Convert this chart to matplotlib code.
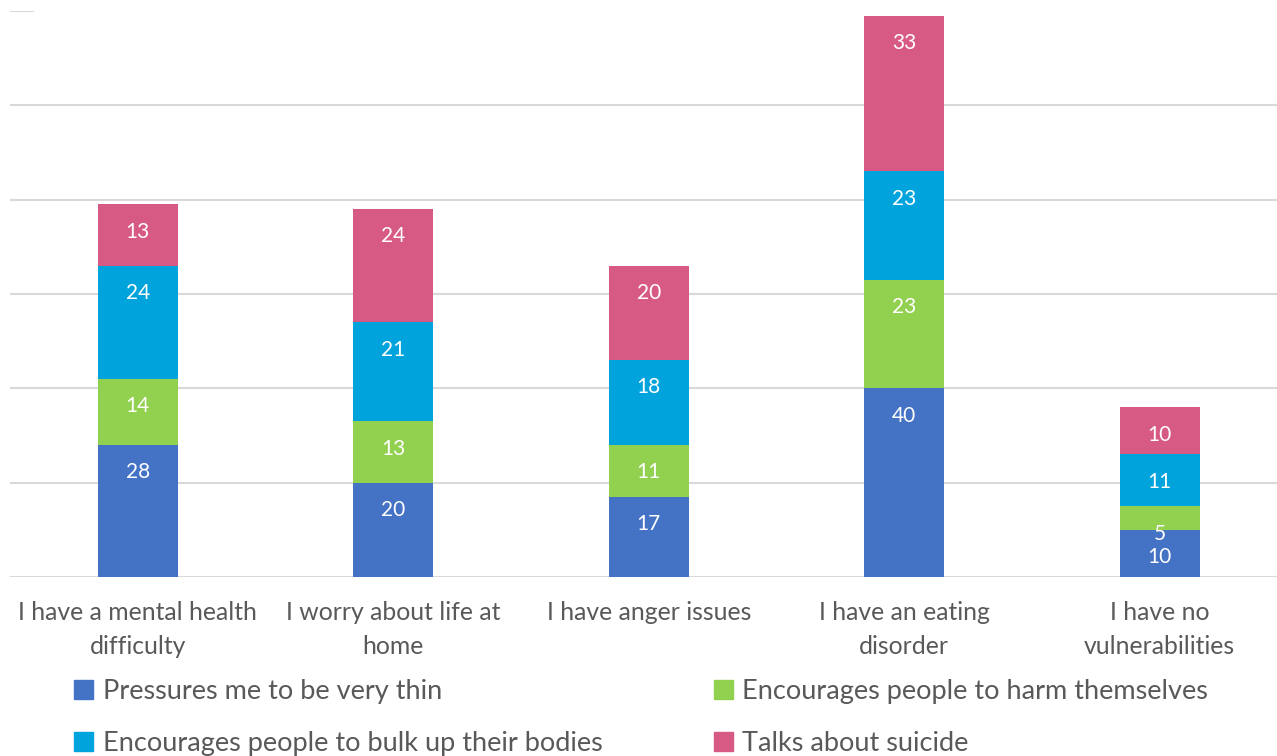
import numpy as np
import matplotlib.pyplot as plt
from matplotlib.patches import Patch

categories = ["I have a mental health\ndifficulty", "I worry about life at\nhome",
              "I have anger issues", "I have an eating\ndisorder", "I have no\nvulnerabilities"]
thin = [28, 20, 17, 40, 10]
harm = [14, 13, 11, 23, 5]
bulk = [24, 21, 18, 23, 11]
suicide = [13, 24, 20, 33, 10]

series = [
    ("Pressures me to be very thin", thin, "#4472C4"),
    ("Encourages people to harm themselves", harm, "#92D050"),
    ("Encourages people to bulk up their bodies", bulk, "#00A3DC"),
    ("Talks about suicide", suicide, "#D75A85"),
]

plt.rcParams['font.family'] = ['Lato', 'DejaVu Sans']
grey = "#595959"

fig = plt.figure(figsize=(12.77, 7.56), dpi=100)
ax = fig.add_axes([10 / 1277, 179 / 756, 1277.5 / 1277, 566 / 756])

x = np.arange(len(categories))
bottom = np.zeros(len(categories))
for name, vals, col in series:
    vals = np.array(vals)
    ax.bar(x, vals, width=0.313, bottom=bottom, color=col, zorder=3)
    for xi, b, v in zip(x, bottom, vals):
        ax.text(xi, b + v - 5.8, str(v), ha="center", va="center",
                color="white", fontsize=15, zorder=4)
    bottom += vals

ax.set_xlim(-0.5, 4.5)
ax.set_ylim(0, 120)
for yv in [20, 40, 60, 80, 100]:
    ax.axhline(yv, color="#D9D9D9", lw=1.5, zorder=1)
ax.axhline(120, xmin=0, xmax=0.018, color="#D9D9D9", lw=1.5, zorder=1)
ax.axhline(0, color="#D9D9D9", lw=1.5, zorder=1)

for s in ax.spines.values():
    s.set_visible(False)
ax.set_yticks([])
ax.set_xticks(x)
ax.set_xticklabels(categories, fontsize=17.8, color=grey, linespacing=1.6)
ax.tick_params(axis="x", length=0, pad=17)

handles = [Patch(color=c, label=n) for n, _, c in series]
order = [0, 2, 1, 3]
leg = fig.legend([handles[i] for i in order], [series[i][0] for i in order],
                 ncol=2, loc="upper left", bbox_to_anchor=(50 / 1277, 1 - 655 / 756),
                 frameon=False, fontsize=19.5, handlelength=0.7, handleheight=0.7,
                 handletextpad=0.35, columnspacing=4.1, labelspacing=0.98,
                 labelcolor=grey)

fig.savefig("out.png", dpi=100)
